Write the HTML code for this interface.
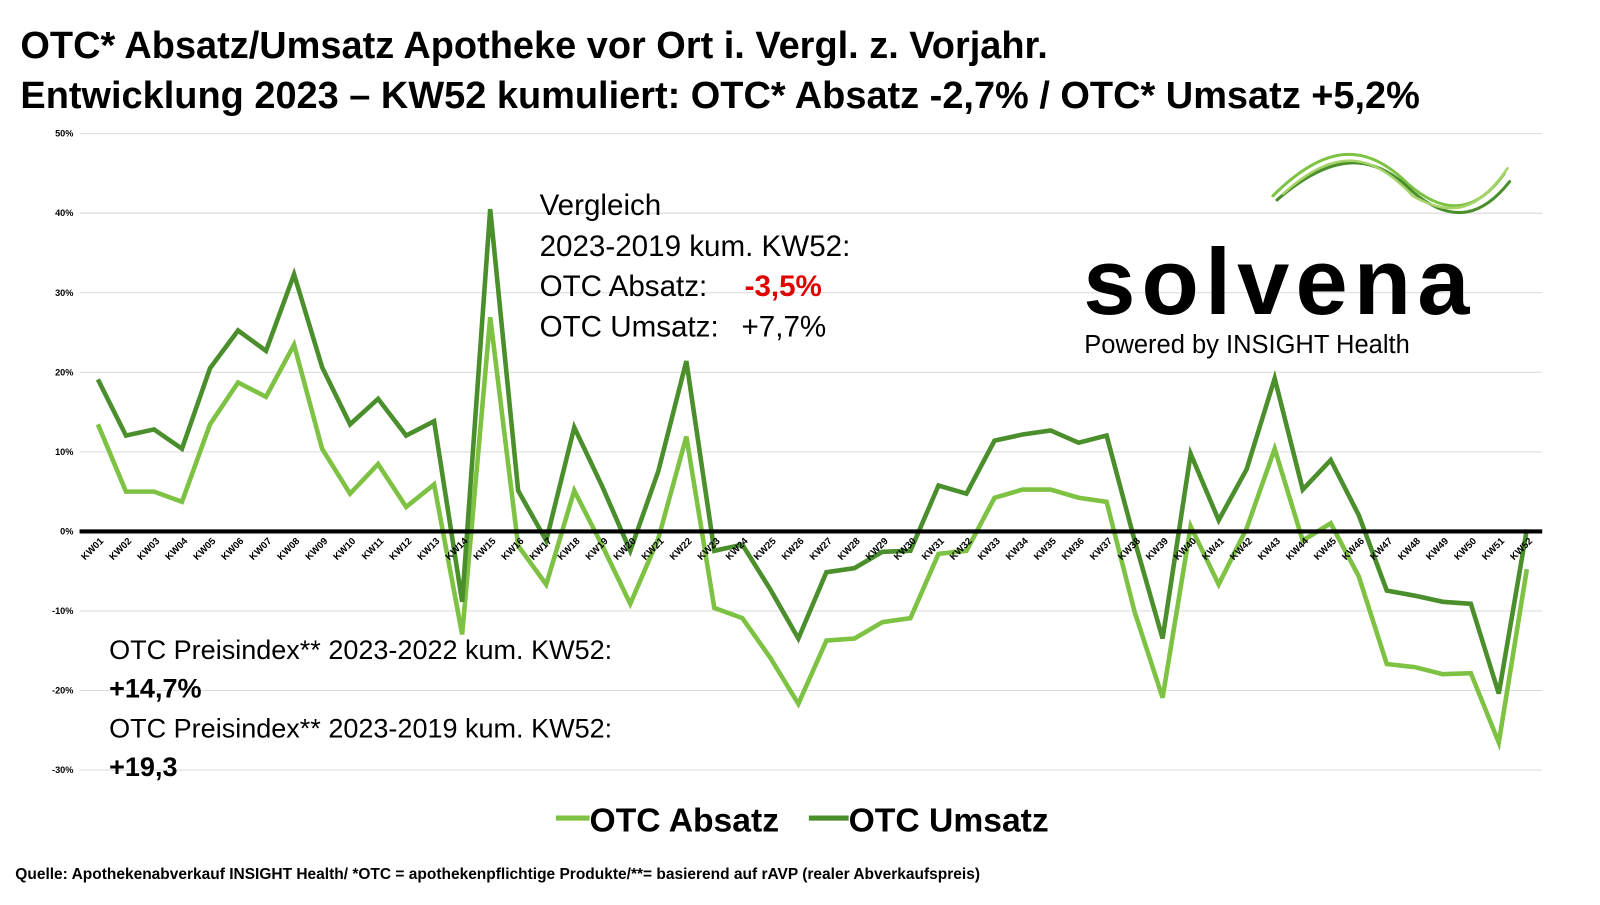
<!DOCTYPE html>
<html><head><meta charset="utf-8"><style>
body{margin:0;width:1600px;height:900px;background:#fff;overflow:hidden;font-family:"Liberation Sans",sans-serif}
</style></head><body>
<svg width="1600" height="900" xmlns="http://www.w3.org/2000/svg" font-family="Liberation Sans, sans-serif">
<g transform="scale(1.02)">
<text x="20" y="57" font-size="37.2" font-weight="bold">OTC* Absatz/Umsatz Apotheke vor Ort i. Vergl. z. Vorjahr.</text>
<text x="20" y="106" font-size="37.2" font-weight="bold">Entwicklung 2023 – KW52 kumuliert: OTC* Absatz -2,7% / OTC* Umsatz +5,2%</text>
<g stroke="#d9d9d9" stroke-width="1">
<line x1="78" x2="1512" y1="131" y2="131"/><line x1="78" x2="1512" y1="209" y2="209"/><line x1="78" x2="1512" y1="287" y2="287"/><line x1="78" x2="1512" y1="365" y2="365"/><line x1="78" x2="1512" y1="443" y2="443"/><line x1="78" x2="1512" y1="599" y2="599"/><line x1="78" x2="1512" y1="677" y2="677"/><line x1="78" x2="1512" y1="755" y2="755"/>
</g>
<g font-size="9" font-weight="bold" text-anchor="end">
<text x="72" y="134">50%</text><text x="72" y="212">40%</text><text x="72" y="290">30%</text><text x="72" y="368">20%</text><text x="72" y="446">10%</text><text x="72" y="524">0%</text><text x="72" y="602">-10%</text><text x="72" y="680">-20%</text><text x="72" y="758">-30%</text>
</g>
<g fill="none" stroke-width="4.5" stroke-linejoin="miter">
<polyline stroke="#7dc242" points="96,416 123.5,482 151,482 178.4,492 205.9,416 233.4,375 260.8,389 288.3,338 315.8,440 343.2,484 370.7,455 398.2,497 425.6,475 453.1,622 480.6,311 508,535 535.5,573 563,481 590.5,535 617.9,592 645.4,528 672.9,428 700.3,596 727.8,606 755.3,645 782.7,690 810.2,628 837.7,626 865.1,610 892.6,606 920.1,543 947.5,540 975,488 1002.5,480 1030,480 1057.4,488 1084.9,492 1112.4,600 1139.8,684 1167.3,516 1194.8,573 1222.2,518 1249.7,440 1277.2,530 1304.6,513 1332.1,565 1359.6,651 1387,654 1414.5,661 1442,660 1469.4,728 1496.9,558"/>
<polyline stroke="#4a8f2c" points="96,372 123.5,427 151,421 178.4,440 205.9,361 233.4,324 260.8,344 288.3,269 315.8,360 343.2,416 370.7,391 398.2,427 425.6,413 453.1,590 480.6,205 508,481 535.5,530 563,419 590.5,477 617.9,540 645.4,462 672.9,354 700.3,540 727.8,534 755.3,578 782.7,626 810.2,561 837.7,557 865.1,541 892.6,540 920.1,476 947.5,484 975,432 1002.5,426 1030,422 1057.4,434 1084.9,427 1112.4,530 1139.8,626 1167.3,445 1194.8,510 1222.2,460 1249.7,371 1277.2,480 1304.6,451 1332.1,505 1359.6,579 1387,584 1414.5,590 1442,592 1469.4,680 1496.9,519"/>
</g>
<line x1="78" x2="1512" y1="521" y2="521" stroke="#000" stroke-width="4"/>
<g font-size="9.5" font-weight="bold" text-anchor="end">
<text transform="translate(102,531) rotate(-45)">KW01</text><text transform="translate(129.5,531) rotate(-45)">KW02</text><text transform="translate(157,531) rotate(-45)">KW03</text><text transform="translate(184.4,531) rotate(-45)">KW04</text><text transform="translate(211.9,531) rotate(-45)">KW05</text><text transform="translate(239.4,531) rotate(-45)">KW06</text><text transform="translate(266.8,531) rotate(-45)">KW07</text><text transform="translate(294.3,531) rotate(-45)">KW08</text><text transform="translate(321.8,531) rotate(-45)">KW09</text><text transform="translate(349.2,531) rotate(-45)">KW10</text><text transform="translate(376.7,531) rotate(-45)">KW11</text><text transform="translate(404.2,531) rotate(-45)">KW12</text><text transform="translate(431.6,531) rotate(-45)">KW13</text><text transform="translate(459.1,531) rotate(-45)">KW14</text><text transform="translate(486.6,531) rotate(-45)">KW15</text><text transform="translate(514,531) rotate(-45)">KW16</text><text transform="translate(541.5,531) rotate(-45)">KW17</text><text transform="translate(569,531) rotate(-45)">KW18</text><text transform="translate(596.5,531) rotate(-45)">KW19</text><text transform="translate(623.9,531) rotate(-45)">KW20</text><text transform="translate(651.4,531) rotate(-45)">KW21</text><text transform="translate(678.9,531) rotate(-45)">KW22</text><text transform="translate(706.3,531) rotate(-45)">KW23</text><text transform="translate(733.8,531) rotate(-45)">KW24</text><text transform="translate(761.3,531) rotate(-45)">KW25</text><text transform="translate(788.7,531) rotate(-45)">KW26</text><text transform="translate(816.2,531) rotate(-45)">KW27</text><text transform="translate(843.7,531) rotate(-45)">KW28</text><text transform="translate(871.1,531) rotate(-45)">KW29</text><text transform="translate(898.6,531) rotate(-45)">KW30</text><text transform="translate(926.1,531) rotate(-45)">KW31</text><text transform="translate(953.5,531) rotate(-45)">KW32</text><text transform="translate(981,531) rotate(-45)">KW33</text><text transform="translate(1008.5,531) rotate(-45)">KW34</text><text transform="translate(1036,531) rotate(-45)">KW35</text><text transform="translate(1063.4,531) rotate(-45)">KW36</text><text transform="translate(1090.9,531) rotate(-45)">KW37</text><text transform="translate(1118.4,531) rotate(-45)">KW38</text><text transform="translate(1145.8,531) rotate(-45)">KW39</text><text transform="translate(1173.3,531) rotate(-45)">KW40</text><text transform="translate(1200.8,531) rotate(-45)">KW41</text><text transform="translate(1228.2,531) rotate(-45)">KW42</text><text transform="translate(1255.7,531) rotate(-45)">KW43</text><text transform="translate(1283.2,531) rotate(-45)">KW44</text><text transform="translate(1310.6,531) rotate(-45)">KW45</text><text transform="translate(1338.1,531) rotate(-45)">KW46</text><text transform="translate(1365.6,531) rotate(-45)">KW47</text><text transform="translate(1393,531) rotate(-45)">KW48</text><text transform="translate(1420.5,531) rotate(-45)">KW49</text><text transform="translate(1448,531) rotate(-45)">KW50</text><text transform="translate(1475.4,531) rotate(-45)">KW51</text><text transform="translate(1502.9,531) rotate(-45)">KW52</text>
</g>
<g font-size="29">
<text x="529" y="211">Vergleich</text>
<text x="529" y="251">2023-2019 kum. KW52:</text>
<text x="529" y="290">OTC Absatz:</text><text x="730" y="290" fill="#e00000" font-weight="bold">-3,5%</text>
<text x="529" y="330">OTC Umsatz:</text><text x="727" y="330">+7,7%</text>
</g>
<g font-size="26.5">
<text x="107" y="646">OTC Preisindex** 2023-2022 kum. KW52:</text>
<text x="107" y="684" font-weight="bold">+14,7%</text>
<text x="107" y="723">OTC Preisindex** 2023-2019 kum. KW52:</text>
<text x="107" y="761" font-weight="bold">+19,3</text>
</g>
<g fill="none" stroke-linecap="round">
<path d="M1248,192 C1300,140 1340,140 1380,180 C1420,215 1450,205 1475,170" stroke="#7dc242" stroke-width="3"/>
<path d="M1252,196 C1305,150 1345,148 1385,188 C1425,222 1455,210 1480,178" stroke="#4a8f2c" stroke-width="3"/>
<path d="M1258,190 C1310,143 1345,150 1385,192 C1425,215 1450,205 1478,165" stroke="#a6d46a" stroke-width="2.5"/>
</g>
<text x="1062" y="308" font-size="92" font-weight="bold" letter-spacing="6">solvena</text>
<text x="1063" y="346" font-size="25">Powered by INSIGHT Health</text>
<line x1="545" x2="578" y1="802" y2="802" stroke="#7dc242" stroke-width="5"/>
<text x="578" y="815" font-size="33" font-weight="bold">OTC Absatz</text>
<line x1="793" x2="832" y1="802" y2="802" stroke="#4a8f2c" stroke-width="5"/>
<text x="832" y="815" font-size="33" font-weight="bold">OTC Umsatz</text>
<text x="15" y="862" font-size="15.2" font-weight="bold">Quelle: Apothekenabverkauf INSIGHT Health/ *OTC = apothekenpflichtige Produkte/**= basierend auf rAVP (realer Abverkaufspreis)</text>
</g>
</svg>
</body></html>
